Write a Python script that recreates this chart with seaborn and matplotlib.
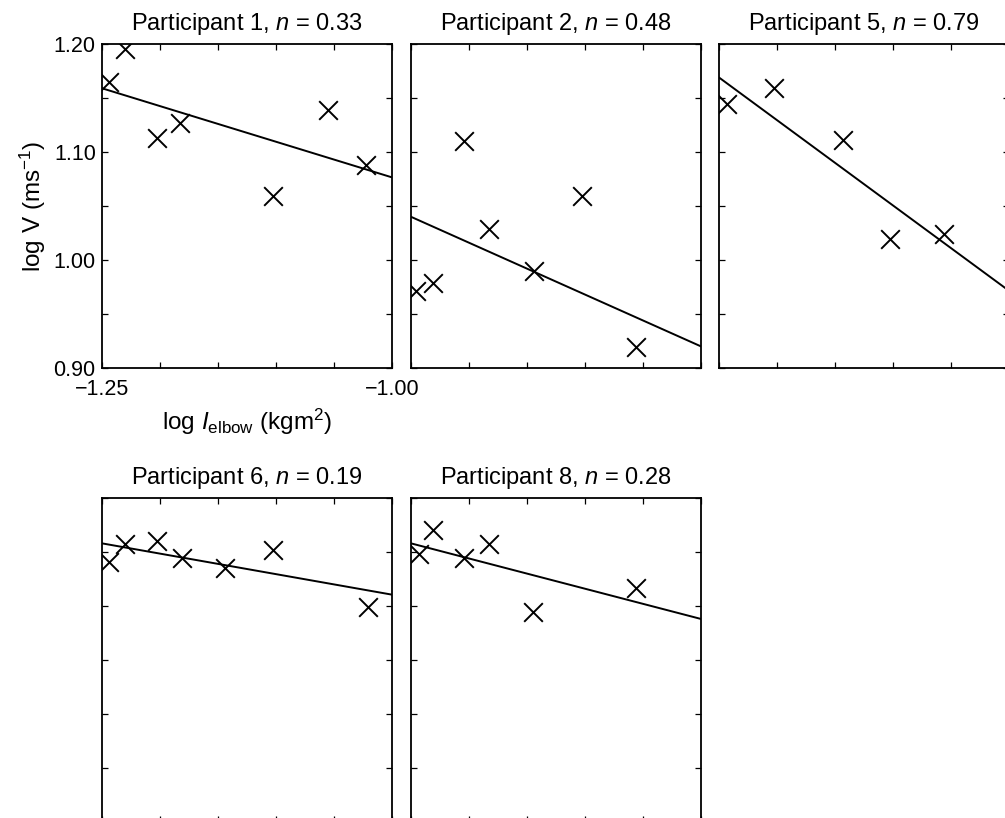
import matplotlib
matplotlib.use("Agg")
import matplotlib.pyplot as plt
import numpy as np
import pandas as pd
import seaborn as sns

sns.set_theme(style="white")
plt.rcParams["font.family"] = ["Liberation Sans", "DejaVu Sans"]
plt.rcParams["mathtext.fontset"] = "custom"
plt.rcParams["mathtext.rm"] = "Liberation Sans"
plt.rcParams["mathtext.it"] = "Liberation Sans:italic"
plt.rcParams["mathtext.bf"] = "Liberation Sans:bold"
plt.rcParams["text.color"] = "black"
plt.rcParams["axes.labelcolor"] = "black"

# Participants and fitted exponents n (log V = a - n * log I)
participants = ["Participant 1", "Participant 2", "Participant 5", "Participant 6", "Participant 8"]
n_values = [0.33, 0.48, 0.79, 0.19, 0.28]
# log V of the fitted line at log I = -1.25
intercepts = [1.159, 1.040, 1.169, 1.158, 1.158]

# log I_elbow (kgm^2) and log V (ms^-1) for each participant
p1_log_i = [-1.244, -1.230, -1.203, -1.183, -1.103, -1.055, -1.022]
p1_log_v = [1.165, 1.195, 1.113, 1.127, 1.059, 1.139, 1.088]

p2_log_i = [-1.246, -1.231, -1.204, -1.183, -1.144, -1.103, -1.056]
p2_log_v = [0.971, 0.979, 1.110, 1.029, 0.990, 1.059, 0.919]

p5_log_i = [-1.243, -1.203, -1.143, -1.103, -1.056]
p5_log_v = [1.144, 1.159, 1.111, 1.019, 1.024]

p6_log_i = [-1.244, -1.230, -1.203, -1.181, -1.144, -1.103, -1.021]
p6_log_v = [1.141, 1.157, 1.160, 1.144, 1.135, 1.152, 1.099]

p8_log_i = [-1.243, -1.231, -1.204, -1.183, -1.145, -1.056]
p8_log_v = [1.148, 1.170, 1.144, 1.157, 1.094, 1.117]

x_range = [-1.25, -1.00]
y_range = [0.90, 1.20]
x_tick_labels = ["\u22121.25", "", "", "", "", "\u22121.00"]
y_tick_labels = ["0.90", "", "1.00", "", "1.10", "", "1.20"]

series = [
    (p1_log_i, p1_log_v),
    (p2_log_i, p2_log_v),
    (p5_log_i, p5_log_v),
    (p6_log_i, p6_log_v),
    (p8_log_i, p8_log_v),
]

W, H = 1005, 818
fig = plt.figure(figsize=(W / 100, H / 100), dpi=100)

# panel boxes in pixels: (left, top)
boxes = [(102, 44), (411, 44), (719, 44), (102, 498), (411, 498)]
pw, ph = 290, 324

x_ticks = np.round(np.arange(-1.25, -0.999, 0.05), 2)
y_ticks = np.round(np.arange(0.90, 1.2001, 0.05), 2)

for i, (name, n, a, (xs, ys), (left, top)) in enumerate(
        zip(participants, n_values, intercepts, series, boxes)):
    ax = fig.add_axes([left / W, 1 - (top + ph) / H, pw / W, ph / H])
    df = pd.DataFrame({"log_i": xs, "log_v": ys})
    sns.scatterplot(data=df, x="log_i", y="log_v", marker="x", s=180,
                    color="black", linewidth=1.4, ax=ax, zorder=3)
    line = pd.DataFrame({"log_i": x_range,
                         "log_v": [a - n * (x - x_range[0]) for x in x_range]})
    sns.lineplot(data=line, x="log_i", y="log_v", color="black",
                 linewidth=1.4, ax=ax)
    ax.set_xlim(*x_range)
    ax.set_ylim(*y_range)
    ax.set_xticks(x_ticks)
    ax.set_yticks(y_ticks)
    if i == 0:
        ax.set_xticklabels(x_tick_labels)
        ax.set_yticklabels(y_tick_labels)
        ax.set_xlabel(r"log $\mathit{I}_{\rm elbow}$ (kgm$^{2}$)", fontsize=17.5, labelpad=5)
        ax.set_ylabel(r"log V (ms$^{-1}$)", fontsize=17.5, labelpad=4)
    else:
        ax.set_xticklabels([])
        ax.set_yticklabels([])
        ax.set_xlabel("")
        ax.set_ylabel("")
    ax.tick_params(direction="in", length=4, width=0.9, top=True, right=True,
                   bottom=True, left=True, labelsize=15.5,
                   colors="black", labelcolor="black")
    ax.tick_params(axis="x", pad=8)
    ax.tick_params(axis="y", pad=4.5)
    for sp in ax.spines.values():
        sp.set_visible(True)
        sp.set_color("black")
        sp.set_linewidth(1.3)
    ax.set_title(f"{name}, $n$ = {n:.2f}", fontsize=17, pad=10, color="black")
    ax.grid(False)

fig.savefig("out.png", dpi=100, facecolor="white")
